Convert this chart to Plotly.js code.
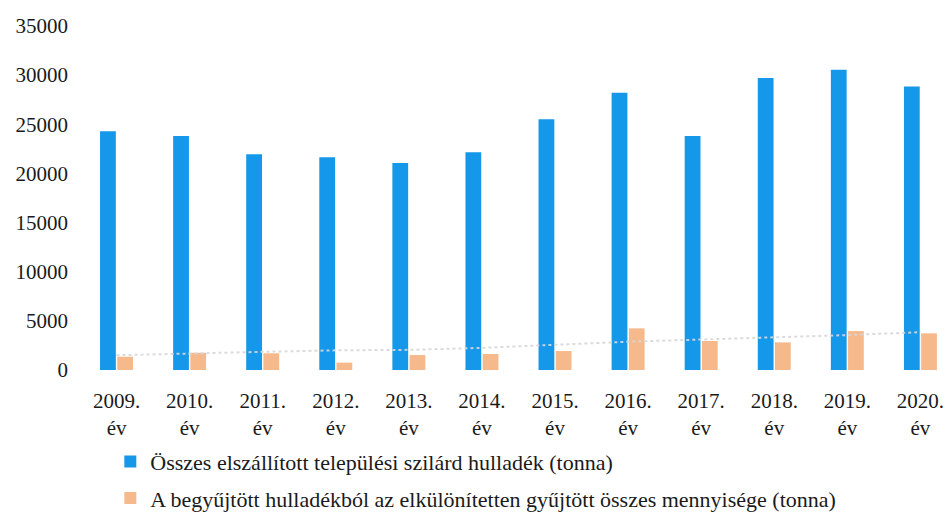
<!DOCTYPE html>
<html>
<head>
<meta charset="utf-8">
<script src="https://cdn.plot.ly/plotly-3.0.1.min.js"></script>
<style>html,body{margin:0;padding:0;background:#fff}#chart{width:946px;height:522px}</style>
</head>
<body>
<div id="chart"></div>
<script>
const years = ["2009.", "2010.", "2011.", "2012.", "2013.", "2014.", "2015.", "2016.", "2017.", "2018.", "2019.", "2020."];
const categories = years.map(y => y + "<br>év");
const totalWaste = [24300, 23800, 21950, 21650, 21050, 22150, 25500, 28200, 23800, 29700, 30550, 28850];
const separateCollected = [1350, 1750, 1700, 750, 1520, 1630, 1930, 4240, 2950, 2810, 3960, 3730];
const trendValues = [1500, 1700, 1850, 2000, 2050, 2250, 2550, 2880, 3100, 3300, 3550, 3850];
const seriesNames = ["Összes elszállított települési szilárd hulladék (tonna)",
  "A begyűjtött hulladékból az elkülönítetten gyűjtött összes mennyisége (tonna)"];
const yTicks = [0, 5000, 10000, 15000, 20000, 25000, 30000, 35000];

const serif = "Liberation Serif";
const data = [
  {type: "bar", x: categories, y: totalWaste, name: seriesNames[0], marker: {color: "#1598ea"}, legendgroup: "a"},
  {type: "bar", x: categories, y: separateCollected, name: seriesNames[1], marker: {color: "#f6b98c"}, legendgroup: "b"},
  {type: "scatter", mode: "lines", x: categories, y: trendValues, showlegend: false, hoverinfo: "skip",
   line: {color: "rgba(215,215,215,0.9)", width: 2, dash: "dot"}}
];
const layout = {
  width: 946, height: 522,
  margin: {l: 80, r: 0, t: 26, b: 152},
  paper_bgcolor: "#fff", plot_bgcolor: "#fff",
  barmode: "group", bargap: 0.53, bargroupgap: 0.08,
  font: {family: serif, color: "#1a1a1a", size: 21},
  xaxis: {type: "category", range: [-0.5, 11.35], showgrid: false, zeroline: false, showline: false,
    ticks: "", ticklabelstandoff: 16, tickfont: {family: serif, size: 21, color: "#1a1a1a"}},
  yaxis: {range: [0, 35000], tickvals: yTicks, ticktext: yTicks.map(String), showgrid: false,
    zeroline: false, showline: false, ticks: "", ticklabelstandoff: 11,
    tickfont: {family: serif, size: 21, color: "#1a1a1a"}},
  showlegend: true,
  legend: {x: 0.035, y: -0.435, xanchor: "left", yanchor: "bottom", bgcolor: "rgba(0,0,0,0)",
    orientation: "v", traceorder: "grouped", tracegroupgap: 5,
    font: {family: serif, size: 22, color: "#1a1a1a"}, itemwidth: 30}
};
Plotly.newPlot("chart", data, layout, {displayModeBar: false, staticPlot: true});
</script>
</body>
</html>
